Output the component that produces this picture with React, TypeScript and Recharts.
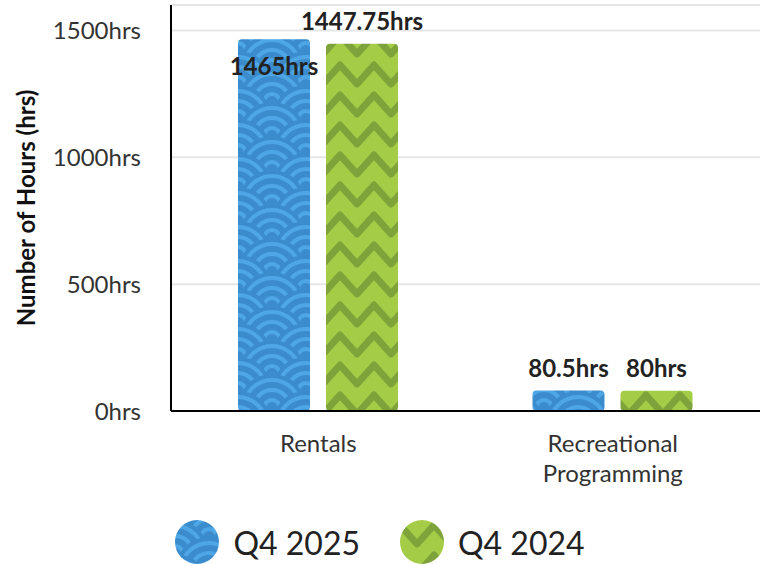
import React from 'react'
import {
  Bar,
  BarChart,
  CartesianGrid,
  LabelList,
  Legend,
  XAxis,
  YAxis
} from 'recharts'

const categories = ['Rentals', 'Recreational Programming']
const q4_2025 = [1465, 80.5]
const q4_2024 = [1447.75, 80]
const seriesNames = ['Q4 2025', 'Q4 2024']
const yTicks = [0, 500, 1000, 1500]

// labels that sit inside the bar top instead of above it
const insideLabels = ['Rentals']

const data = categories.map((name, i) => ({
  name,
  q4_2025: q4_2025[i],
  q4_2024: q4_2024[i]
}))

const blue = '#3b8ccc'
const blueRing = '#4ea6e6'
const green = '#a5cc46'
const greenZig = '#7ea33b'
const font = 'Lato, "Noto Sans", sans-serif'

const R = 34
const waveCenters = [
  [R, -R / 2], [0, 0], [2 * R, 0], [R, R / 2], [0, R], [2 * R, R], [R, 1.5 * R]
]

const Patterns = () => (
  <defs>
    <pattern id='wave' width={2 * R} height={R} patternUnits='userSpaceOnUse'>
      <rect width={2 * R} height={R} fill={blue} />
      {waveCenters.map(([cx, cy], i) => (
        <g key={i}>
          <circle cx={cx} cy={cy} r={R} fill={blue} />
          {[28, 18, 8].map(rr => (
            <circle key={rr} cx={cx} cy={cy} r={rr} fill='none' stroke={blueRing} strokeWidth={4} />
          ))}
        </g>
      ))}
    </pattern>
    <pattern id='zigzag' width={34} height={30} patternUnits='userSpaceOnUse'>
      <rect width={34} height={30} fill={green} />
      <path d='M-17 24 L0 5 L17 24 L34 5 L51 24' fill='none' stroke={greenZig} strokeWidth={7} strokeLinejoin='round' />
    </pattern>
  </defs>
)

const patternIds = ['wave', 'zigzag']

const XTick = (props: any) => {
  const { x, y, payload } = props
  const lines = String(payload.value).split(' ')
  return (
    <text x={x} y={y} textAnchor='middle' fill='#333' fontSize={24} fontFamily={font}>
      {lines.map((l, i) => (
        <tspan key={i} x={x} dy={i === 0 ? 39 : 30}>{l}</tspan>
      ))}
    </text>
  )
}

const makeLabel = (inside: boolean) => (props: any) => {
  const { x, y, width, value, index } = props
  const isInside = inside && insideLabels.includes(categories[index])
  const cy = isInside ? y + 26 : y - 23
  return (
    <text
      x={x + width / 2}
      y={cy}
      textAnchor='middle'
      dominantBaseline='central'
      fill='#222'
      fontSize={24}
      fontWeight={700}
      fontFamily={font}
    >
      {`${value}hrs`}
    </text>
  )
}

const renderLegend = () => (
  <div style={{display: 'flex', justifyContent: 'center', alignItems: 'flex-end', height: 63}}>
    {seriesNames.map((n, i) => (
      <div key={n} style={{display: 'flex', alignItems: 'center', marginRight: i === 0 ? 40 : 0}}>
        <svg width={44} height={44}>
          <circle cx={22} cy={22} r={22} fill={`url(#${patternIds[i]})`} />
        </svg>
        <span style={{marginLeft: 14, fontSize: 32, color: '#222', fontFamily: font}}>{n}</span>
      </div>
    ))}
  </div>
)

const YLabel = (props: any) => {
  const { viewBox } = props
  const cx = viewBox.x + 25
  const cy = viewBox.y + viewBox.height / 2
  return (
    <text
      x={cx}
      y={cy}
      transform={`rotate(-90 ${cx} ${cy})`}
      textAnchor='middle'
      dominantBaseline='central'
      fill='#111'
      fontSize={24}
      fontWeight={700}
      fontFamily={font}
    >
      Number of Hours (hrs)
    </text>
  )
}

export default function App() {
  return (
    <div style={{fontFamily: font}}>
      <style>{'body{margin:0}'}</style>
      <BarChart
        width={764}
        height={564}
        data={data}
        margin={{top: 5, right: 4, left: 0, bottom: 0}}
        barSize={72}
        barGap={16}
      >
        <Patterns />
        <CartesianGrid vertical={false} stroke='#e6e6e6' strokeWidth={2} />
        <XAxis
          dataKey='name'
          height={90}
          tickLine={false}
          tickSize={0}
          axisLine={{stroke: '#000', strokeWidth: 2}}
          tick={<XTick />}
          interval={0}
        />
        <YAxis
          width={171}
          domain={[0, 1600]}
          ticks={yTicks}
          tickLine={false}
          tickSize={0}
          tickMargin={30}
          axisLine={{stroke: '#000', strokeWidth: 2}}
          tick={{fill: '#333', fontSize: 24, fontFamily: font}}
          tickFormatter={(v: number) => `${v}hrs`}
          label={{content: <YLabel />}}
        />
        <Legend verticalAlign='bottom' height={63} content={renderLegend} />
        <Bar dataKey='q4_2025' name={seriesNames[0]} fill='url(#wave)' radius={4} isAnimationActive={false}>
          <LabelList dataKey='q4_2025' content={makeLabel(true)} />
        </Bar>
        <Bar dataKey='q4_2024' name={seriesNames[1]} fill='url(#zigzag)' radius={4} isAnimationActive={false}>
          <LabelList dataKey='q4_2024' content={makeLabel(false)} />
        </Bar>
      </BarChart>
    </div>
  )
}
